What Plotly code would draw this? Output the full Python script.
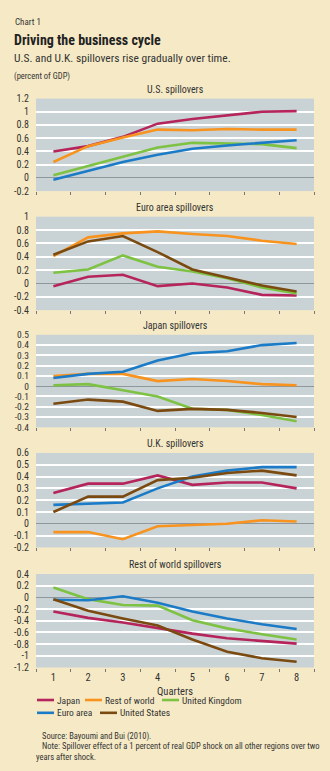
import plotly.graph_objects as go

# ---------------- data ----------------
quarters = [1, 2, 3, 4, 5, 6, 7, 8]
quarter_labels = ["1", "2", "3", "4", "5", "6", "7", "8"]
series_names = ["Japan", "Rest of world", "United Kingdom", "Euro area", "United States"]

panel_titles = ["U.S. spillovers", "Euro area spillovers", "Japan spillovers",
                "U.K. spillovers", "Rest of world spillovers"]

# U.S. spillovers
us_japan = [0.40, 0.48, 0.62, 0.82, 0.89, 0.95, 1.00, 1.01]
us_row   = [0.24, 0.48, 0.61, 0.73, 0.72, 0.74, 0.73, 0.73]
us_uk    = [0.04, 0.18, 0.33, 0.46, 0.53, 0.52, 0.51, 0.45]
us_euro  = [-0.03, 0.10, 0.24, 0.35, 0.44, 0.49, 0.53, 0.57]

# Euro area spillovers
ea_japan = [-0.04, 0.10, 0.13, -0.04, 0.00, -0.06, -0.17, -0.18]
ea_row   = [0.41, 0.69, 0.75, 0.78, 0.74, 0.71, 0.64, 0.59]
ea_uk    = [0.16, 0.21, 0.42, 0.25, 0.18, 0.08, -0.06, -0.15]
ea_us    = [0.43, 0.63, 0.71, 0.47, 0.21, 0.09, -0.03, -0.12]

# Japan spillovers
jp_row   = [0.10, 0.12, 0.12, 0.05, 0.07, 0.05, 0.02, 0.01]
jp_uk    = [0.01, 0.02, -0.04, -0.10, -0.22, -0.23, -0.28, -0.34]
jp_euro  = [0.08, 0.12, 0.14, 0.25, 0.32, 0.34, 0.40, 0.42]
jp_us    = [-0.17, -0.13, -0.15, -0.24, -0.22, -0.23, -0.26, -0.30]

# U.K. spillovers
uk_japan = [0.26, 0.34, 0.34, 0.41, 0.33, 0.35, 0.35, 0.30]
uk_row   = [-0.07, -0.07, -0.13, -0.02, -0.01, 0.00, 0.03, 0.02]
uk_euro  = [0.16, 0.17, 0.18, 0.30, 0.40, 0.45, 0.48, 0.48]
uk_us    = [0.10, 0.23, 0.23, 0.37, 0.39, 0.43, 0.45, 0.41]

# Rest of world spillovers
rw_japan = [-0.24, -0.35, -0.43, -0.53, -0.62, -0.70, -0.75, -0.79]
rw_uk    = [0.17, -0.03, -0.13, -0.14, -0.39, -0.53, -0.63, -0.72]
rw_euro  = [-0.04, -0.05, 0.02, -0.09, -0.24, -0.36, -0.46, -0.54]
rw_us    = [-0.03, -0.23, -0.36, -0.48, -0.72, -0.93, -1.04, -1.10]

# y tick values / labels per panel
p1_ticks = [-0.2, 0, 0.2, 0.4, 0.6, 0.8, 1, 1.2]
p1_labels = ["-0.2", "0", "0.2", "0.4", "0.6", "0.8", "1", "1.2"]
p2_ticks = [-0.4, -0.2, 0, 0.2, 0.4, 0.6, 0.8, 1]
p2_labels = ["-0.4", "-0.2", "0", "0.2", "0.4", "0.6", "0.8", "1"]
p3_ticks = [-0.4, -0.3, -0.2, -0.1, 0, 0.1, 0.2, 0.3, 0.4, 0.5]
p3_labels = ["-0.4", "-0.3", "-0.2", "-0.1", "0", "0.1", "0.2", "0.3", "0.4", "0.5"]
p4_ticks = [-0.2, -0.1, 0, 0.1, 0.2, 0.3, 0.4, 0.5, 0.6]
p4_labels = ["-0.2", "-0.1", "0", "0.1", "0.2", "0.3", "0.4", "0.5", "0.6"]
p5_ticks = [-1.2, -1, -0.8, -0.6, -0.4, -0.2, 0, 0.2, 0.4]
p5_labels = ["-1.2", "-1", "-0.8", "-0.6", "-0.4", "-0.2", "0", "0.2", "0.4"]

# ---------------- style ----------------
W, H = 330, 771
FONT = "Liberation Sans Narrow, Roboto Condensed, Liberation Sans, Arial, sans-serif"
BG = "#F6EAC6"
PLOT_BG = "#C9D3D6"
TXT = "#333333"
colors = {
    "Japan": "#B5245A",
    "Rest of world": "#F7931E",
    "United Kingdom": "#7DC242",
    "Euro area": "#1B7BC6",
    "United States": "#7A4A10",
}

panels = [
    (panel_titles[0], p1_ticks, p1_labels,
     [("Japan", us_japan), ("Rest of world", us_row), ("United Kingdom", us_uk), ("Euro area", us_euro)]),
    (panel_titles[1], p2_ticks, p2_labels,
     [("Japan", ea_japan), ("Rest of world", ea_row), ("United Kingdom", ea_uk), ("United States", ea_us)]),
    (panel_titles[2], p3_ticks, p3_labels,
     [("Rest of world", jp_row), ("United Kingdom", jp_uk), ("Euro area", jp_euro), ("United States", jp_us)]),
    (panel_titles[3], p4_ticks, p4_labels,
     [("Japan", uk_japan), ("Rest of world", uk_row), ("Euro area", uk_euro), ("United States", uk_us)]),
    (panel_titles[4], p5_ticks, p5_labels,
     [("Japan", rw_japan), ("United Kingdom", rw_uk), ("Euro area", rw_euro), ("United States", rw_us)]),
]

# pixel extents of each plot area (top, bottom)
extents = [(94, 188), (214, 309), (334, 428), (454, 550), (577, 672)]
x0_px, x1_px = 36, 314


def py(p):
    return 1 - p / H


def px(p):
    return p / W


fig = go.Figure()
layout = dict(
    width=W, height=H,
    margin=dict(l=0, r=0, t=0, b=0),
    paper_bgcolor=BG, plot_bgcolor=PLOT_BG,
    showlegend=False,
    font=dict(family=FONT, color=TXT, size=11),
)
annotations = []
shapes = []

for i, (title, ticks, labels, series) in enumerate(panels):
    n = i + 1
    xa = "x" if n == 1 else f"x{n}"
    ya = "y" if n == 1 else f"y{n}"
    for name, vals in series:
        fig.add_trace(go.Scatter(
            x=quarters, y=vals, mode="lines", name=name,
            line=dict(color=colors[name], width=2.6),
            xaxis=xa, yaxis=ya, hoverinfo="skip"))
    top, bot = extents[i]
    last = (n == 5)
    layout["xaxis" if n == 1 else f"xaxis{n}"] = dict(
        domain=[px(x0_px), px(x1_px)], anchor=ya,
        range=[0.5, 8.5], showgrid=False, zeroline=False,
        tickmode="array", tickvals=quarters, ticktext=quarter_labels,
        ticks="", showticklabels=last, ticklabelstandoff=2,
        tickfont=dict(size=10.5, color=TXT, family=FONT),
        minor=dict(tickmode="array", tickvals=[0.5 + k for k in range(9)],
                   ticks="outside", ticklen=3, tickwidth=1.2, tickcolor="#777777",
                   showgrid=False),
        showline=False, fixedrange=True,
        title=dict(text="Quarters", font=dict(size=10.5, color=TXT, family=FONT), standoff=4) if last else None,
    )
    layout["yaxis" if n == 1 else f"yaxis{n}"] = dict(
        domain=[py(bot), py(top)], anchor=xa,
        range=[ticks[0], ticks[-1]],
        tickmode="array", tickvals=ticks, ticktext=labels,
        showgrid=True, gridcolor="#FFFFFF", gridwidth=1.6,
        zeroline=True, zerolinecolor="#8E979B", zerolinewidth=1.4,
        ticks="", ticklabelstandoff=6,
        tickfont=dict(size=10 if len(ticks) < 10 else 9.5, color=TXT, family=FONT),
        showline=False, fixedrange=True,
    )
    annotations.append(dict(
        text=title, xref="paper", yref="paper",
        x=px((x0_px + x1_px) / 2), y=py(top - 2), xanchor="center", yanchor="bottom",
        showarrow=False, font=dict(size=10, color=TXT, family=FONT)))

# header texts
annotations += [
    dict(text="Chart 1", x=px(13), y=py(9), xanchor="left", yanchor="top",
         font=dict(size=9, color=TXT, family=FONT)),
    dict(text="<b>Driving the business cycle</b>", x=px(12), y=py(24), xanchor="left", yanchor="top",
         font=dict(size=14, color="#222222", family=FONT)),
    dict(text="U.S. and U.K. spillovers rise gradually over time.", x=px(12), y=py(44),
         xanchor="left", yanchor="top", font=dict(size=11.5, color=TXT, family=FONT)),
    dict(text="(percent of GDP)", x=px(12), y=py(64), xanchor="left", yanchor="top",
         font=dict(size=8.5, color=TXT, family=FONT)),
    dict(text="Source: Bayoumi and Bui (2010).", x=px(40), y=py(734), xanchor="left", yanchor="top",
         font=dict(size=8.5, color=TXT, family=FONT)),
    dict(text="Note: Spillover effect of a 1 percent of real GDP shock on all other regions over two",
         x=px(40), y=py(745), xanchor="left", yanchor="top",
         font=dict(size=8.5, color=TXT, family=FONT)),
    dict(text="years after shock.", x=px(34), y=py(756), xanchor="left", yanchor="top",
         font=dict(size=8.5, color=TXT, family=FONT)),
]

# legend (manual)
legend_items = [
    ("Japan", 37, 705), ("Rest of world", 85, 705), ("United Kingdom", 162, 705),
    ("Euro area", 37, 718), ("United States", 100, 718),
]
for name, lx, ly in legend_items:
    shapes.append(dict(type="line", xref="paper", yref="paper",
                       x0=px(lx), x1=px(lx + 17), y0=py(ly), y1=py(ly),
                       line=dict(color=colors[name], width=2.6)))
    annotations.append(dict(text=name, x=px(lx + 18), y=py(ly), xanchor="left", yanchor="middle",
                            font=dict(size=9.5, color=TXT, family=FONT)))

for a in annotations:
    a.setdefault("xref", "paper")
    a.setdefault("yref", "paper")
    a.setdefault("showarrow", False)

layout["annotations"] = annotations
layout["shapes"] = shapes
fig.update_layout(**layout)
fig.write_html("out.html")
